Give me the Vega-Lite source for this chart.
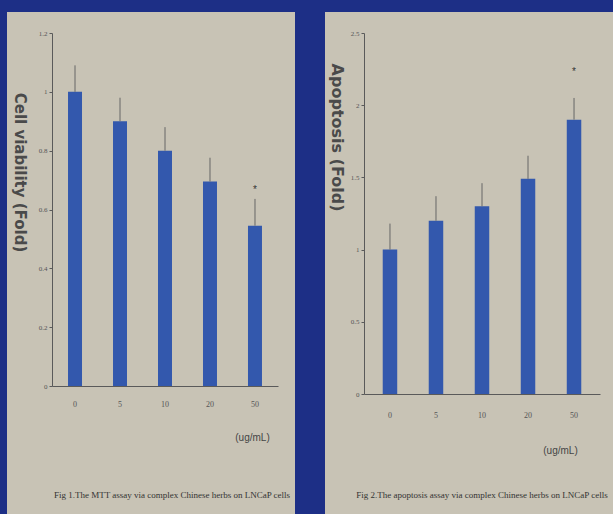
{
  "$schema": "https://vega.github.io/schema/vega-lite/v6.json",
  "background": "#1d2f86",
  "padding": {"left": 7, "top": 12, "right": 0, "bottom": 0},
  "config": {
    "view": {"fill": "#c8c3b5", "stroke": null},
    "axis": {
      "grid": false,
      "domainColor": "#5a5a5a",
      "tickColor": "#5a5a5a",
      "labelColor": "#555555",
      "labelFont": "Liberation Serif",
      "titleColor": "#454545",
      "titleFontWeight": "normal"
    },
    "title": {"font": "Liberation Serif", "fontWeight": "normal", "color": "#333333"}
  },
  "datasets": {
    "mtt": [
      {"dose": 0, "value": 1.0, "upper": 1.09, "sig": ""},
      {"dose": 5, "value": 0.9, "upper": 0.98, "sig": ""},
      {"dose": 10, "value": 0.8, "upper": 0.88, "sig": ""},
      {"dose": 20, "value": 0.695, "upper": 0.776, "sig": ""},
      {"dose": 50, "value": 0.545, "upper": 0.636, "sig": "*"}
    ],
    "apop": [
      {"dose": 0, "value": 1.0, "upper": 1.18, "sig": ""},
      {"dose": 5, "value": 1.2, "upper": 1.37, "sig": ""},
      {"dose": 10, "value": 1.3, "upper": 1.46, "sig": ""},
      {"dose": 20, "value": 1.49, "upper": 1.65, "sig": ""},
      {"dose": 50, "value": 1.9, "upper": 2.05, "sig": "*"}
    ]
  },
  "hconcat": [
    {
      "width": 288,
      "height": 502,
      "data": {"name": "mtt"},
      "title": {"text": "Fig 1.The MTT assay via complex Chinese herbs on LNCaP cells", "orient": "bottom", "offset": -23, "dx": 21, "fontSize": 9, "anchor": "middle"},
      "encoding": {
        "x": {
          "field": "dose", "type": "ordinal",
          "scale": {"type": "band", "range": [45, 271], "paddingInner": 0.689, "paddingOuter": 0.356},
          "axis": {
            "offset": -128, "labelAngle": 0, "ticks": false, "labelPadding": 14, "labelFontSize": 8,
            "title": "(ug/mL)", "titleX": 245, "titleY": 51, "titleAlign": "center", "titleBaseline": "middle",
            "titleFont": "Liberation Sans", "titleFontSize": 10
          }
        }
      },
      "layer": [
        {
          "mark": {"type": "bar", "color": "#3358ad"},
          "encoding": {
            "y": {
              "field": "value", "type": "quantitative",
              "scale": {"domain": [0, 1.2], "range": [374, 21], "nice": false, "zero": false},
              "axis": {
                "values": [0, 0.2, 0.4, 0.6, 0.8, 1, 1.2], "format": "~g", "offset": -45,
                "tickSize": 3, "labelFontSize": 7, "labelPadding": 2,
                "title": "Cell viability (Fold)", "titleAngle": 90, "titleX": -33, "titleY": 160,
                "titleAlign": "center", "titleBaseline": "middle", "titleFont": "DejaVu Sans", "titleFontSize": 15, "titleFontWeight": "bold", "titleColor": "#4a4a4a"
              }
            }
          }
        },
        {
          "mark": {"type": "rule", "color": "#666666", "strokeWidth": 1},
          "encoding": {"y": {"field": "value", "type": "quantitative"}, "y2": {"field": "upper"}}
        },
        {
          "mark": {"type": "text", "color": "#333333", "fontSize": 10, "dy": -9, "baseline": "middle"},
          "encoding": {"y": {"field": "upper", "type": "quantitative"}, "text": {"field": "sig"}}
        }
      ]
    },
    {
      "width": 288,
      "height": 502,
      "data": {"name": "apop"},
      "title": {"text": "Fig 2.The apoptosis assay via complex Chinese herbs on LNCaP cells", "orient": "bottom", "offset": -23, "dx": 13, "fontSize": 9, "anchor": "middle"},
      "encoding": {
        "x": {
          "field": "dose", "type": "ordinal",
          "scale": {"type": "band", "range": [39, 275], "paddingInner": 0.685, "paddingOuter": 0.407},
          "axis": {
            "offset": -120, "labelAngle": 0, "ticks": false, "labelPadding": 17, "labelFontSize": 8,
            "title": "(ug/mL)", "titleX": 235, "titleY": 56, "titleAlign": "center", "titleBaseline": "middle",
            "titleFont": "Liberation Sans", "titleFontSize": 10
          }
        }
      },
      "layer": [
        {
          "mark": {"type": "bar", "color": "#3358ad"},
          "encoding": {
            "y": {
              "field": "value", "type": "quantitative",
              "scale": {"domain": [0, 2.5], "range": [382, 21], "nice": false, "zero": false},
              "axis": {
                "values": [0, 0.5, 1, 1.5, 2, 2.5], "format": "~g", "offset": -39,
                "tickSize": 3, "labelFontSize": 7, "labelPadding": 2,
                "title": "Apoptosis (Fold)", "titleAngle": 90, "titleX": -28, "titleY": 125,
                "titleAlign": "center", "titleBaseline": "middle", "titleFont": "DejaVu Sans", "titleFontSize": 16, "titleFontWeight": "bold", "titleColor": "#4a4a4a"
              }
            }
          }
        },
        {
          "mark": {"type": "rule", "color": "#666666", "strokeWidth": 1},
          "encoding": {"y": {"field": "value", "type": "quantitative"}, "y2": {"field": "upper"}}
        },
        {
          "mark": {"type": "text", "color": "#333333", "fontSize": 10, "dy": -26, "baseline": "middle"},
          "encoding": {"y": {"field": "upper", "type": "quantitative"}, "text": {"field": "sig"}}
        }
      ]
    }
  ],
  "spacing": 30
}
